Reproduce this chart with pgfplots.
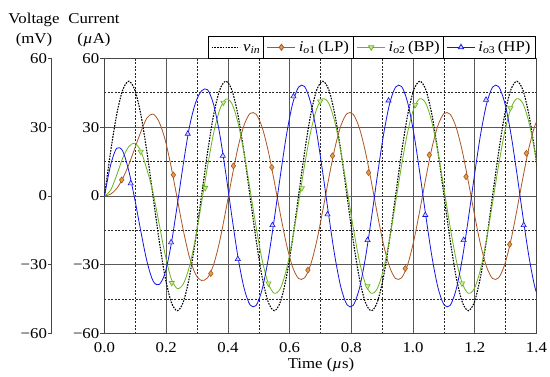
\documentclass[border=0pt]{standalone}
\usepackage{fontspec}
\setmainfont[FakeStretch=1.12]{Liberation Serif}
\usepackage{pgfplots}
\usepackage{pgfplotstable}
\pgfplotsset{compat=1.18}
\definecolor{lpcol}{RGB}{170,85,35}
\definecolor{lpfill}{RGB}{225,160,70}
\definecolor{bpcol}{RGB}{105,180,30}
\definecolor{bpfill}{RGB}{205,235,160}
\definecolor{hpcol}{RGB}{20,20,230}
\definecolor{hpfill}{RGB}{215,215,255}
\definecolor{axcol}{RGB}{70,70,70}

\pgfplotstableread{
t vin lp bp hp
0.0000 0 0 0 0
0.0197 19.13 0.8 2.5 13.4
0.0393 35.36 3.2 9.0 20.8
0.0590 46.19 7.6 16.5 19.6
0.0786 50 13.6 21.5 11.0
0.0983 46.19 20.8 23.0 -1.5
0.1179 35.36 28.0 19.5 -15.5
0.1376 19.13 34.0 11.5 -28.5
0.1572 0 35.7 1.5 -37.0
0.1769 -19.13 32.3 -12.0 -38.6
0.1965 -35.36 24.5 -25.5 -33.5
0.2162 -46.19 12.6 -36.0 -21.0
0.2358 -50 -1.2 -40.3 -4.0
0.2555 -46.19 -15.0 -38.3 14.0
0.2751 -35.36 -26.6 -30.8 30.0
0.2948 -19.13 -34.0 -18.5 40.5
0.3144 0 -36.8 -3.0 45.8
0.3341 19.13 -35.63 13.0 46.3
0.3537 35.36 -29.90 27.5 39.8
0.3734 46.19 -19.61 37.6 27.0
0.3930 50 -6.34 42.2 10.0
0.4127 46.19 7.90 40.30 -8.84
0.4323 35.36 20.94 32.08 -26.41
0.4520 19.13 30.78 18.96 -39.97
0.4716 0 35.95 2.97 -47.44
0.4913 -19.13 35.63 -13.48 -47.69
0.5109 -35.36 29.90 -27.88 -40.68
0.5306 -46.19 19.61 -38.03 -27.47
0.5502 -50 6.34 -42.40 -10.08
0.5699 -46.19 -7.90 -40.30 8.84
0.5895 -35.36 -20.94 -32.08 26.41
0.6092 -19.13 -30.78 -18.96 39.97
0.6288 0 -35.95 -2.97 47.44
0.6485 19.13 -35.63 13.48 47.69
0.6681 35.36 -29.90 27.88 40.68
0.6878 46.19 -19.61 38.03 27.47
0.7074 50 -6.34 42.40 10.08
0.7271 46.19 7.90 40.30 -8.84
0.7467 35.36 20.94 32.08 -26.41
0.7664 19.13 30.78 18.96 -39.97
0.7860 0 35.95 2.97 -47.44
0.8057 -19.13 35.63 -13.48 -47.69
0.8253 -35.36 29.90 -27.88 -40.68
0.8450 -46.19 19.61 -38.03 -27.47
0.8646 -50 6.34 -42.40 -10.08
0.8843 -46.19 -7.90 -40.30 8.84
0.9039 -35.36 -20.94 -32.08 26.41
0.9236 -19.13 -30.78 -18.96 39.97
0.9432 0 -35.95 -2.97 47.44
0.9629 19.13 -35.63 13.48 47.69
0.9825 35.36 -29.90 27.88 40.68
1.0022 46.19 -19.61 38.03 27.47
1.0218 50 -6.34 42.40 10.08
1.0415 46.19 7.90 40.30 -8.84
1.0611 35.36 20.94 32.08 -26.41
1.0808 19.13 30.78 18.96 -39.97
1.1004 0 35.95 2.97 -47.44
1.1201 -19.13 35.63 -13.48 -47.69
1.1397 -35.36 29.90 -27.88 -40.68
1.1594 -46.19 19.61 -38.03 -27.47
1.1790 -50 6.34 -42.40 -10.08
1.1987 -46.19 -7.90 -40.30 8.84
1.2183 -35.36 -20.94 -32.08 26.41
1.2380 -19.13 -30.78 -18.96 39.97
1.2576 0 -35.95 -2.97 47.44
1.2773 19.13 -35.63 13.48 47.69
1.2969 35.36 -29.90 27.88 40.68
1.3166 46.19 -19.61 38.03 27.47
1.3362 50 -6.34 42.40 10.08
1.3559 46.19 7.90 40.30 -8.84
1.3755 35.36 20.94 32.08 -26.41
1.3952 19.13 30.78 18.96 -39.97
1.4148 0 35.95 2.97 -47.44
}\datatable

\begin{document}
\begin{tikzpicture}[font=\fontsize{15}{18}\selectfont]
% left voltage axis
\begin{axis}[
  at={(-52.8pt,0pt)}, anchor=south west, scale only axis,
  width=10pt, height=275.4pt,
  xmin=0, xmax=1, ymin=-60, ymax=60,
  axis x line=none, axis y line*=left,
  axis line style={axcol, line width=0.8pt, -},
  ytick={-60,-30,0,30,60},
  yticklabels={−60,−30,0,30,60},
  tick align=outside, major tick length=3.5pt,
  tick style={axcol, line width=0.8pt},
  yticklabel style={inner sep=1pt},
]
\addplot[draw=none] coordinates {(0,0)};
\end{axis}
% main axis
\begin{axis}[
  at={(0pt,0pt)}, anchor=south west, scale only axis,
  width=432pt, height=275.4pt,
  xmin=0, xmax=1.4, ymin=-60, ymax=60,
  xtick={0,0.2,0.4,0.6,0.8,1.0,1.2,1.4},
  xticklabels={0.0,0.2,0.4,0.6,0.8,1.0,1.2,1.4},
  minor xtick={0.1,0.3,0.5,0.7,0.9,1.1,1.3},
  ytick={-60,-30,0,30,60},
  yticklabels={−60,−30,0,30,60},
  minor ytick={-45,-15,15,45},
  grid=both,
  major grid style={black!65, line width=0.7pt},
  minor grid style={black!85, line width=0.45pt, dash pattern=on 2pt off 1.5pt},
  axis line style={axcol, line width=0.9pt},
  tick align=outside, major tick length=4pt, minor tick length=0pt,
  xtick pos=bottom, ytick pos=left,
  xtick style={draw=none},
  ytick style={axcol, line width=0.8pt},
  yticklabel style={inner sep=1pt},
  xticklabel style={inner sep=0pt, yshift=-5pt},
  legend columns=4,
  legend image code/.code={
    \path (-3pt,0pt) (31pt,0pt);
    \draw[mark repeat=2,mark phase=2,#1] plot coordinates {(0pt,0pt) (14pt,0pt) (28pt,0pt)};
  },
  legend style={at={(rel axis cs:1,1)}, anchor=south east, xshift=-1pt,
    draw=black, line width=0.8pt, inner sep=0pt, outer sep=0pt,
    column sep=0pt, row sep=0pt,
    nodes={inner sep=0pt, text height=15pt, text depth=7pt},
    font=\fontsize{15}{18}\selectfont},
]
\addlegendimage{black, line width=1.1pt, dash pattern=on 1.6pt off 1.2pt}
\addlegendentry{\textit{v}\textsubscript{\textit{in}}\hspace{3pt}\rule[-7pt]{0.8pt}{22pt}}
\addlegendimage{lpcol, line width=0.8pt, mark=diamond*, mark size=3pt, mark options={solid, fill=lpfill, draw=lpcol}}
\addlegendentry{\textit{i}\textsubscript{\textit{o}1}\,(LP)\hspace{4pt}\rule[-7pt]{0.8pt}{22pt}}
\addlegendimage{bpcol, line width=0.8pt, mark=triangle*, mark size=3pt, mark options={solid, rotate=180, fill=bpfill, draw=bpcol}}
\addlegendentry{\textit{i}\textsubscript{\textit{o}2}\,(BP)\hspace{3pt}\rule[-7pt]{0.8pt}{22pt}}
\addlegendimage{hpcol, line width=0.8pt, mark=triangle*, mark size=3pt, mark options={solid, fill=hpfill, draw=hpcol}}
\addlegendentry{\textit{i}\textsubscript{\textit{o}3}\,(HP)\hspace{5pt}\rule[-7pt]{0pt}{22pt}}

\addplot[forget plot, black, line width=1.1pt, dash pattern=on 1.6pt off 1.2pt, smooth] table[x=t, y=vin] {\datatable};
\addplot[forget plot, lpcol, line width=0.8pt, smooth] table[x=t, y=lp] {\datatable};
\addplot[forget plot, bpcol, line width=0.8pt, smooth] table[x=t, y=bp] {\datatable};
\addplot[forget plot, hpcol, line width=0.8pt, smooth] table[x=t, y=hp] {\datatable};

\addplot[forget plot, only marks, mark=diamond*, mark size=3pt, mark options={fill=lpfill, draw=lpcol, line width=0.6pt}] coordinates {
(0.0558,7.0) (0.2232,9.2) (0.3445,-33.8) (0.4178,13.1) (0.5423,12.5) (0.6591,-32.3)
(0.7389,17.5) (0.8557,10.2) (0.9747,-31.6) (1.0525,17.9) (1.1716,8.4) (1.3130,-21.1) (1.3672,18.6)};
\addplot[forget plot, only marks, mark=triangle*, mark size=3pt, mark options={rotate=180, fill=bpfill, draw=bpcol, line width=0.6pt}] coordinates {
(0.1174,19.3) (0.2180,-37.9) (0.3260,3.5) (0.3853,40.7) (0.5313,-38.1) (0.6396,3.4)
(0.6990,41.2) (0.8524,-39.3) (1.0071,39.7) (1.1586,-38.1) (1.3153,38.3)};
\addplot[forget plot, only marks, mark=triangle*, mark size=3pt, mark options={fill=hpfill, draw=hpcol, line width=0.6pt}] coordinates {
(0.0850,5.5) (0.2157,-20.2) (0.2699,27.1) (0.3834,17.5) (0.4320,-27.5) (0.5443,-12.7)
(0.6124,43.4) (0.7227,-8.0) (0.8524,-19.2) (0.9205,41.6) (1.0396,-8.3) (1.1638,-19.2)
(1.2365,41.9) (1.3584,-12.7)};
\end{axis}
\node[anchor=base] at (-70.5pt,310.4pt) {Voltage};
\node[anchor=base] at (-70.5pt,290.4pt) {(mV)};
\node[anchor=base] at (-10.5pt,310.4pt) {Current};
\node[anchor=base] at (-10.5pt,290.4pt) {(\textit{µ}A)};
\node[anchor=base] at (216.5pt,-34.5pt) {Time (\textit{µ}s)};
\pgfresetboundingbox
\path[use as bounding box] (-104.5pt,-43.3pt) rectangle (445.5pt,333.7pt);
\end{tikzpicture}
\end{document}
